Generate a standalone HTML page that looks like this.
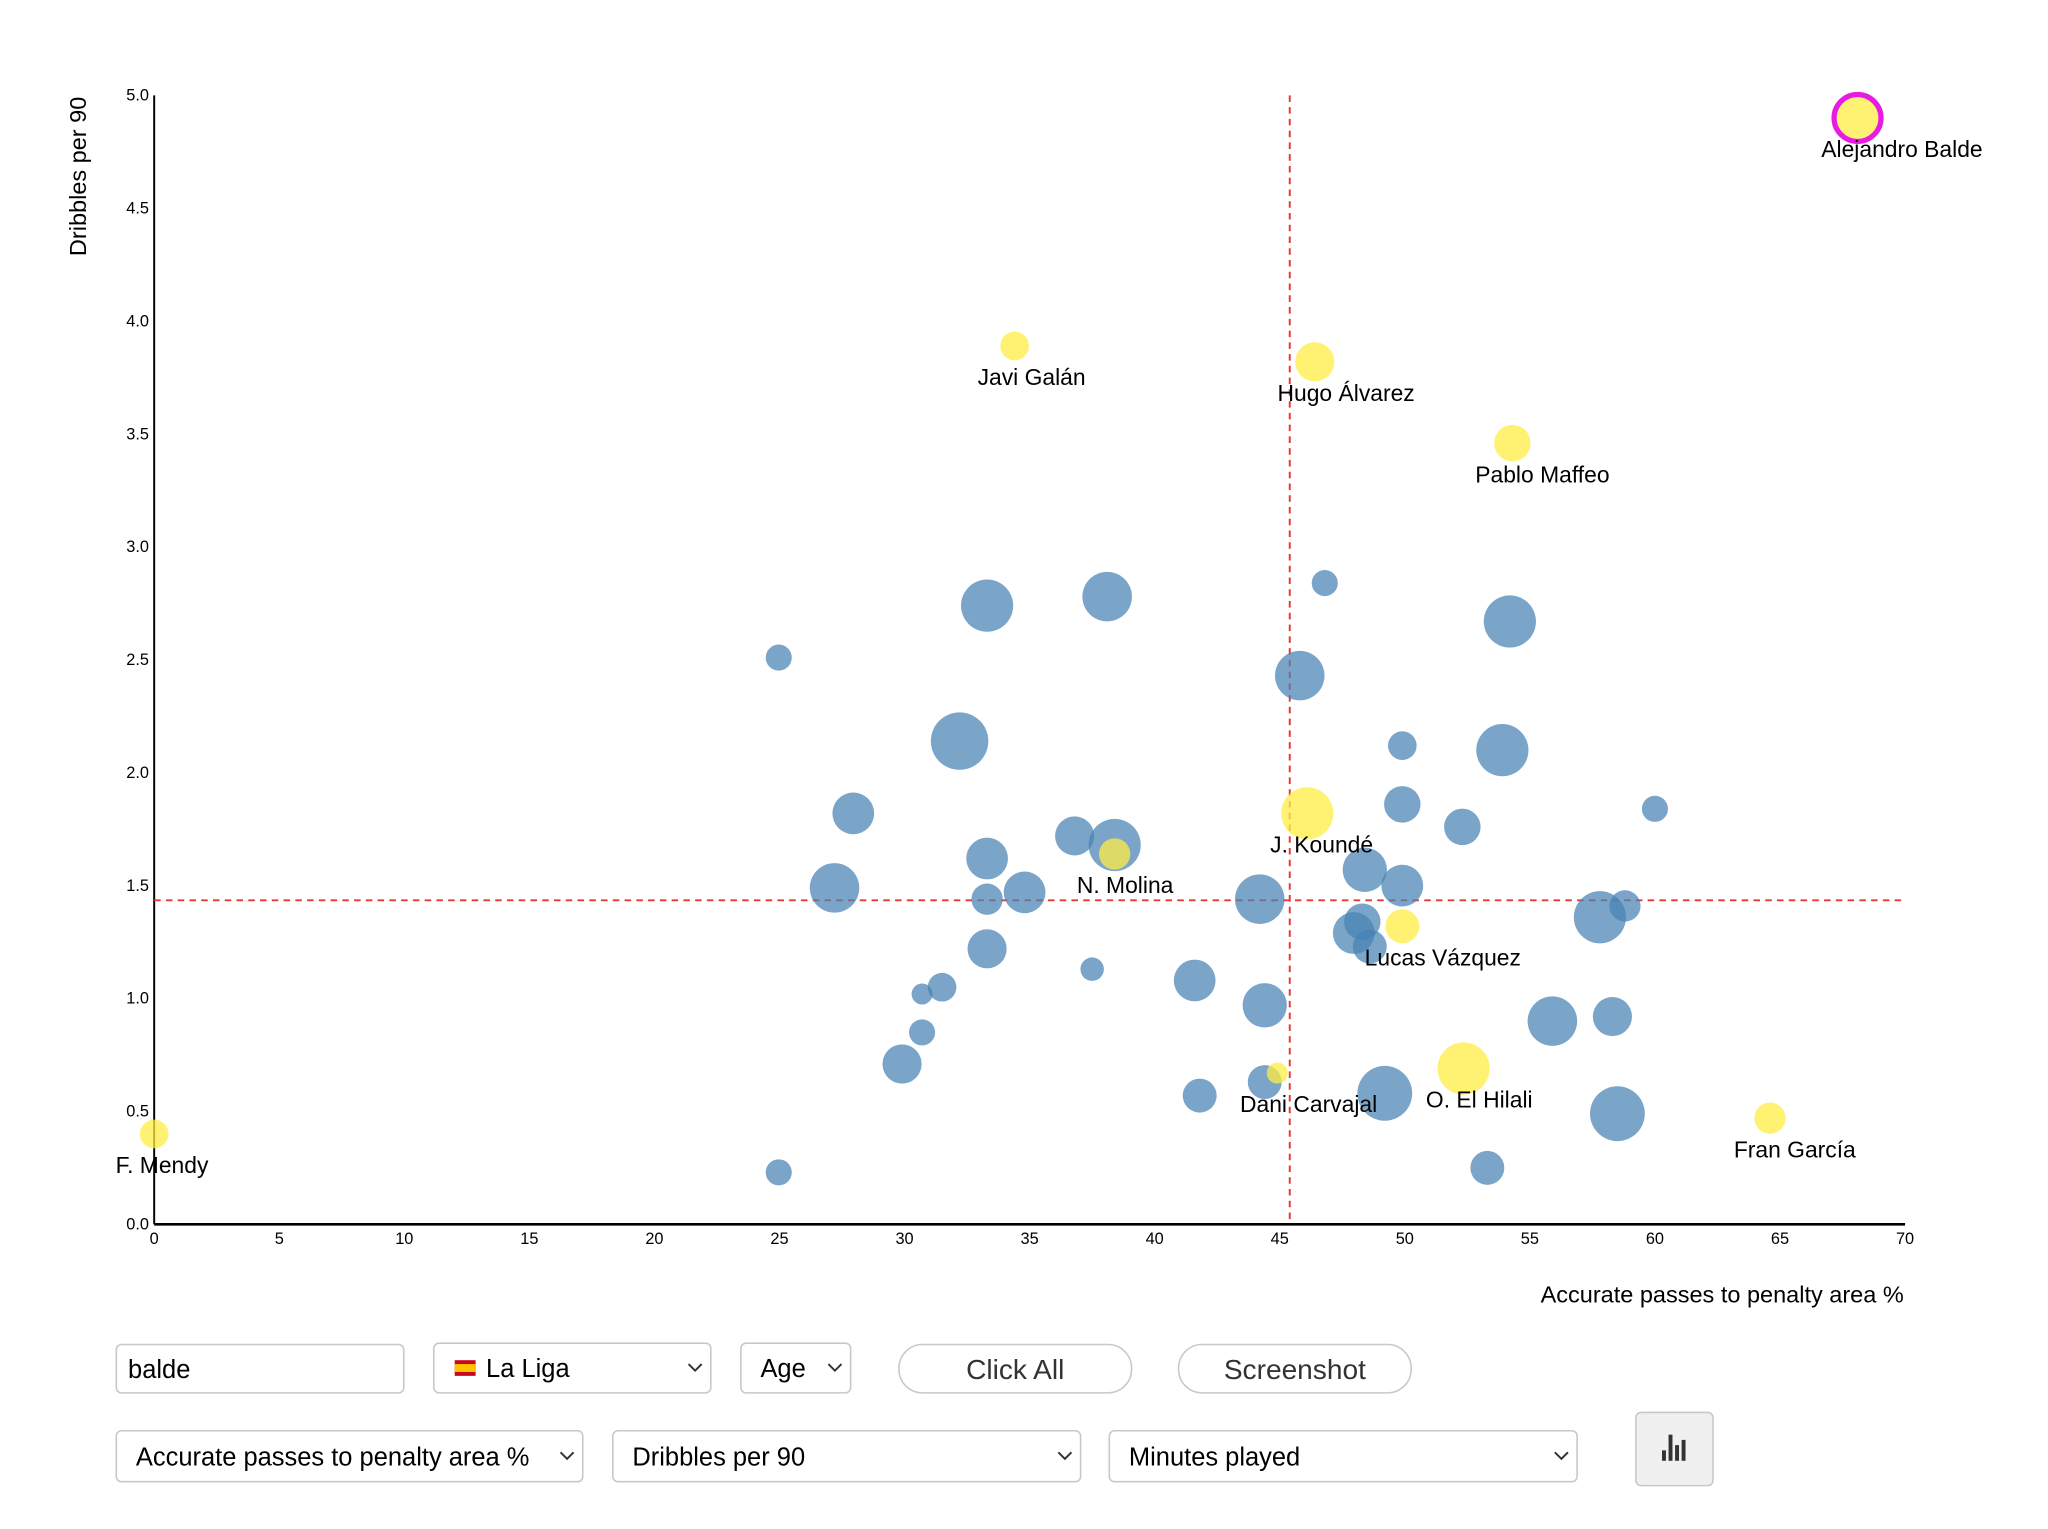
<!DOCTYPE html>
<html><head><meta charset="utf-8">
<style>
html,body{margin:0;padding:0;background:#fff;}
svg{display:block;font-family:"Liberation Sans",Arial,sans-serif;}
</style></head>
<body>
<svg id="chart" width="2048" height="1529" viewBox="0 0 1567.4 1170.2" preserveAspectRatio="none">
</svg>
<script>
// ---- data ----
const blueX=[24.97,33.3,38.1,46.8,54.2,45.8,32.2,49.9,53.9,27.95,49.9,60.0,52.3,36.8,38.4,33.3,48.4,27.2,49.9,34.8,33.3,44.2,58.8,57.8,48.3,47.96,48.6,33.3,37.5,41.6,31.5,30.7,44.4,55.9,58.3,30.7,29.9,44.4,41.8,49.2,58.5,24.97,53.3];
const blueY=[2.51,2.74,2.78,2.84,2.67,2.43,2.14,2.12,2.10,1.82,1.86,1.84,1.76,1.72,1.68,1.62,1.57,1.49,1.50,1.47,1.44,1.44,1.41,1.36,1.34,1.29,1.23,1.22,1.13,1.08,1.05,1.02,0.97,0.90,0.92,0.85,0.71,0.63,0.57,0.58,0.49,0.23,0.25];
const blueMin=[680,2720,2450,680,2720,2450,3300,820,2720,1740,1330,680,1330,1530,2720,1740,1960,2450,1740,1740,980,2450,980,2720,1330,1740,1150,1530,550,1740,820,440,1960,2450,1530,680,1530,1150,1150,3000,3000,680,1150];
const yelNames=["Javi Galán","Hugo Álvarez","Pablo Maffeo","Alejandro Balde","J. Koundé","N. Molina","Lucas Vázquez","O. El Hilali","Dani Carvajal","Fran García","F. Mendy"];
const yelX=[34.4,46.4,54.3,68.1,46.1,38.4,49.9,52.35,44.9,64.6,0];
const yelY=[3.89,3.82,3.46,4.90,1.82,1.64,1.32,0.69,0.67,0.47,0.40];
const yelMin=[820,1530,1330,2200,2720,980,1150,2720,440,980,820];
const xTicks=[0,5,10,15,20,25,30,35,40,45,50,55,60,65,70];
const yTicks=[0.0,0.5,1.0,1.5,2.0,2.5,3.0,3.5,4.0,4.5,5.0];
const avgX=45.4, avgY=1.435;
const highlighted="Alejandro Balde";
// label placement (styling)
const labelDx=[13,24,23,34,11,8,31,12,24,19,6];

// ---- scales ----
const X0=118,X1=1458,Y0=937,Y1=73;
const sx=v=>X0+(v/70)*(X1-X0);
const sy=v=>Y0-(v/5)*(Y0-Y1);
const sr=m=>22*Math.sqrt(m/3300);
const NS="http://www.w3.org/2000/svg";
const svg=document.getElementById('chart');
function mk(tag,attrs,parent,text){const e=document.createElementNS(NS,tag);for(const k in attrs)e.setAttribute(k,attrs[k]);if(text!==undefined)e.textContent=text;(parent||svg).appendChild(e);return e;}

// axes
const ax=mk('g',{});


const yl=mk('line',{x1:X0,y1:Y1,x2:X0,y2:Y0,stroke:'#000','stroke-width':1.5},ax);


const xl=mk('line',{x1:X0,y1:Y0,x2:X1,y2:Y0,stroke:'#000','stroke-width':2},ax);


xTicks.forEach(t=>{const e=mk('text',{x:sx(t),y:Y0+15,'font-size':12.5,'text-anchor':'middle',fill:'#000'},ax,String(t));

});
yTicks.forEach(t=>{const e=mk('text',{x:X0-4,y:sy(t)+4,'font-size':12.5,'text-anchor':'end',fill:'#000'},ax,t.toFixed(1));

});
const xt=mk('text',{x:1457,y:997,'font-size':18,'text-anchor':'end',fill:'#000'},svg,'Accurate passes to penalty area %');


const yt=mk('text',{x:0,y:0,'font-size':18,'text-anchor':'middle',fill:'#000',transform:'translate(66,135) rotate(-90)'},svg,'Dribbles per 90');



// average lines
const vl=mk('line',{x1:sx(avgX),y1:Y1,x2:sx(avgX),y2:Y0,stroke:'#e53935','stroke-width':1.5,'stroke-dasharray':'5,4'});


const hl=mk('line',{x1:X0,y1:sy(avgY),x2:X1,y2:sy(avgY),stroke:'#e53935','stroke-width':1.5,'stroke-dasharray':'5,4'});



// blue bubbles
blueX.forEach((v,i)=>{const c=mk('circle',{cx:sx(v),cy:sy(blueY[i]),r:sr(blueMin[i]),fill:'#4682b4','fill-opacity':0.72});

});
// yellow bubbles + labels
yelX.forEach((v,i)=>{const cx=sx(v),cy=sy(yelY[i]);
const hi=yelNames[i]===highlighted;
const c=mk('circle',{cx:cx,cy:cy,r:sr(yelMin[i]),fill:'#ffee44','fill-opacity':0.75,stroke:hi?'#e81ce0':'none','stroke-width':hi?4:0});


const t=mk('text',{x:cx+labelDx[i],y:cy+30,'font-size':17.5,'text-anchor':'middle',fill:'#000'},svg,yelNames[i]);

});

// controls
function box(x,y,w,h,rx,fill,name,label,opts){
 const g=mk('g',{});
 
 
 mk('rect',{x:x,y:y,width:w,height:h,rx:rx,fill:fill,stroke:'#c8c8c8','stroke-width':1.2},g);
 if(label!==undefined){const fs=opts.fs||19.5;mk('text',{x:opts.center?x+w/2:x+(opts.pad||10),y:y+h/2+fs*0.36,'font-size':fs,'text-anchor':opts.center?'middle':'start',fill:opts.color||'#000'},g,label);}
 if(opts.chev){mk('path',{d:`M${x+w-17} ${y+h/2-3} l5 5 l5 -5`,fill:'none',stroke:'#333','stroke-width':1.5},g);}
 return g;}
box(89,1029,220,37,4,'#fff','search-input','balde',{pad:9});
const lg=box(332,1028,212,38,4,'#fff','league-select','La Liga',{pad:40,chev:true});
mk('rect',{x:348,y:1041,width:16,height:12,fill:'#c60b1e'},lg);
mk('rect',{x:348,y:1044,width:16,height:6,fill:'#ffc400'},lg);
box(567,1028,84,38,4,'#fff','age-select','Age',{pad:15,chev:true});
box(688,1029,178,37,18,'#fff','click-all-button','Click All',{center:true,color:'#333',fs:21.5});
box(902,1029,178,37,18,'#fff','screenshot-button','Screenshot',{center:true,color:'#333',fs:21.5});
box(89,1095,357,39,4,'#fff','x-metric-select','Accurate passes to penalty area %',{pad:15,chev:true});
box(469,1095,358,39,4,'#fff','y-metric-select','Dribbles per 90',{pad:15,chev:true});
box(849,1095,358,39,4,'#fff','size-metric-select','Minutes played',{pad:15,chev:true});
const ib=box(1252,1081,59,56,4,'#f0f0f0','chart-type-button',undefined,{});
[[1272,1110,3,8],[1277,1098,3,20],[1282,1106,3,12],[1287,1102,3,16]].forEach(b=>mk('rect',{x:b[0],y:b[1],width:b[2],height:b[3],fill:'#333'},ib));
</script>
</body></html>
